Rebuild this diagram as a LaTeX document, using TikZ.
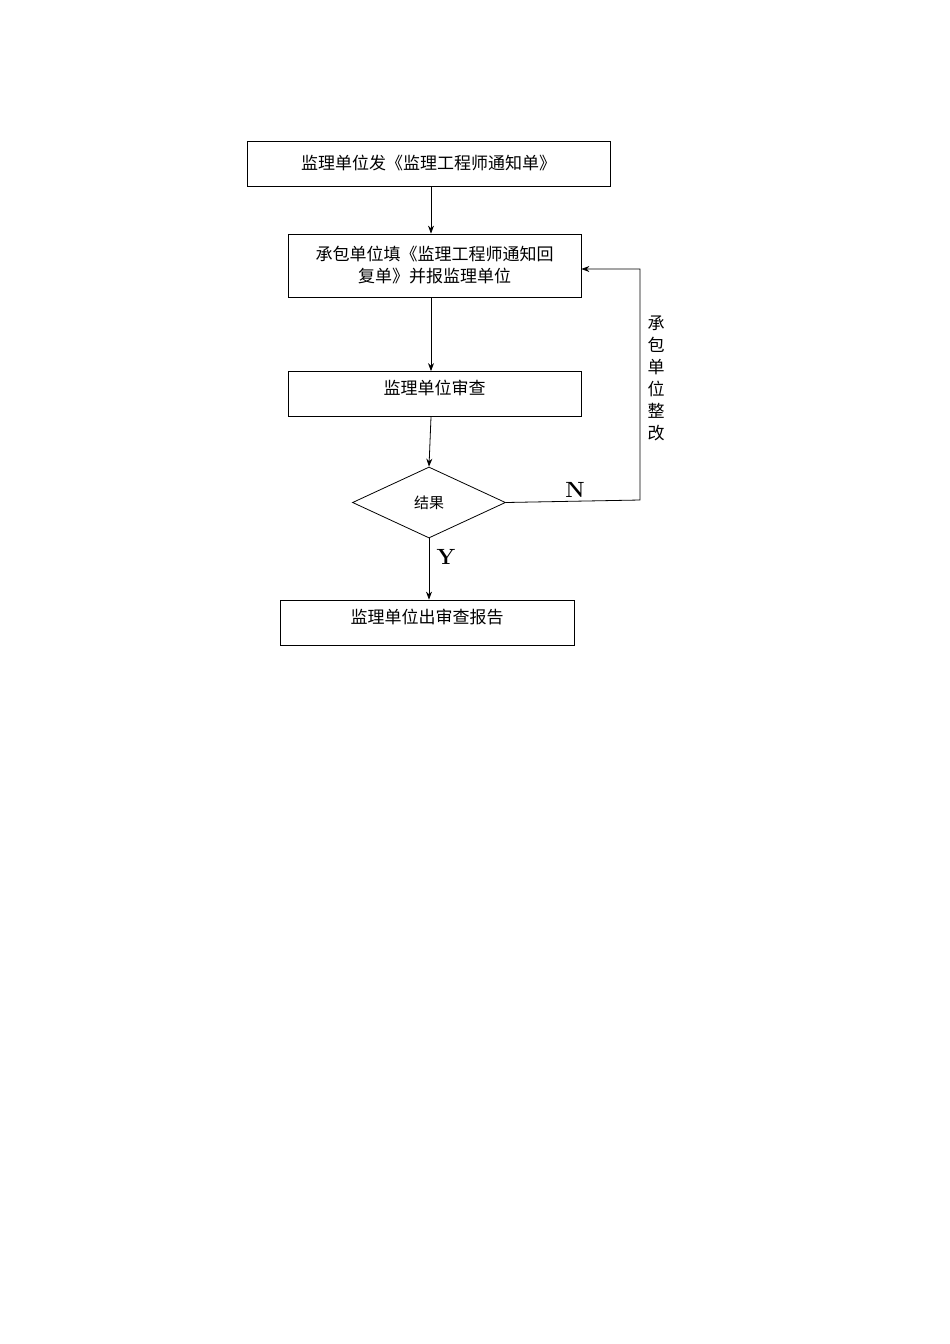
\documentclass[tikz,border=0pt]{standalone}
\usepackage{fontspec}
\newfontfamily\cjk{Noto Sans CJK SC}
\usetikzlibrary{shapes.geometric,arrows.meta}
\begin{document}
\begin{tikzpicture}[x=1pt,y=-1pt,
  box/.style={draw,thick,minimum height=45pt,font=\cjk\fontsize{17}{22}\selectfont,align=center},
  arr/.style={-{Stealth[length=8pt,width=6pt]},thick},
  lab/.style={font=\bfseries\fontsize{22}{22}\selectfont}]
\useasboundingbox (0,0) rectangle (950,1344);
\node[box,minimum width=363pt] (a) at (428.5,163.5) {监理单位发《监理工程师通知单》};
\node[box,minimum width=293pt,minimum height=63pt] (b) at (434.5,265.5) {承包单位填《监理工程师通知回\\复单》并报监理单位};
\node[box,minimum width=293pt,text depth=14pt] (c) at (434.5,394) {监理单位审查};
\node[draw,thick,diamond,minimum width=153pt,minimum height=71pt,inner sep=0pt,aspect=2.15,font=\cjk\fontsize{15}{15}\selectfont] (d) at (429,502.5) {结果};
\node[box,minimum width=294pt,text depth=12pt] (e) at (427,622.5) {监理单位出审查报告};
\draw[arr] (a.south -| 431,0) -- (b.north -| 431,0);
\draw[arr] (b.south -| 431,0) -- (c.north -| 431,0);
\draw[arr] (c.south -| 431,0) -- (d.north);
\draw[arr] (d.south) -- (e.north -| 429,0);
\coordinate (r1) at (640,500);
\coordinate (r2) at (640,269);
\draw[arr] (d.east) -- (r1) -- (r2) -- (b.east |- r2);
\node[lab] at (575,490) {N};
\node[lab] at (446,557) {Y};
\node[font=\cjk\fontsize{17}{22}\selectfont,align=center] at (656,378) {承\\包\\单\\位\\整\\改};
\end{tikzpicture}
\end{document}
